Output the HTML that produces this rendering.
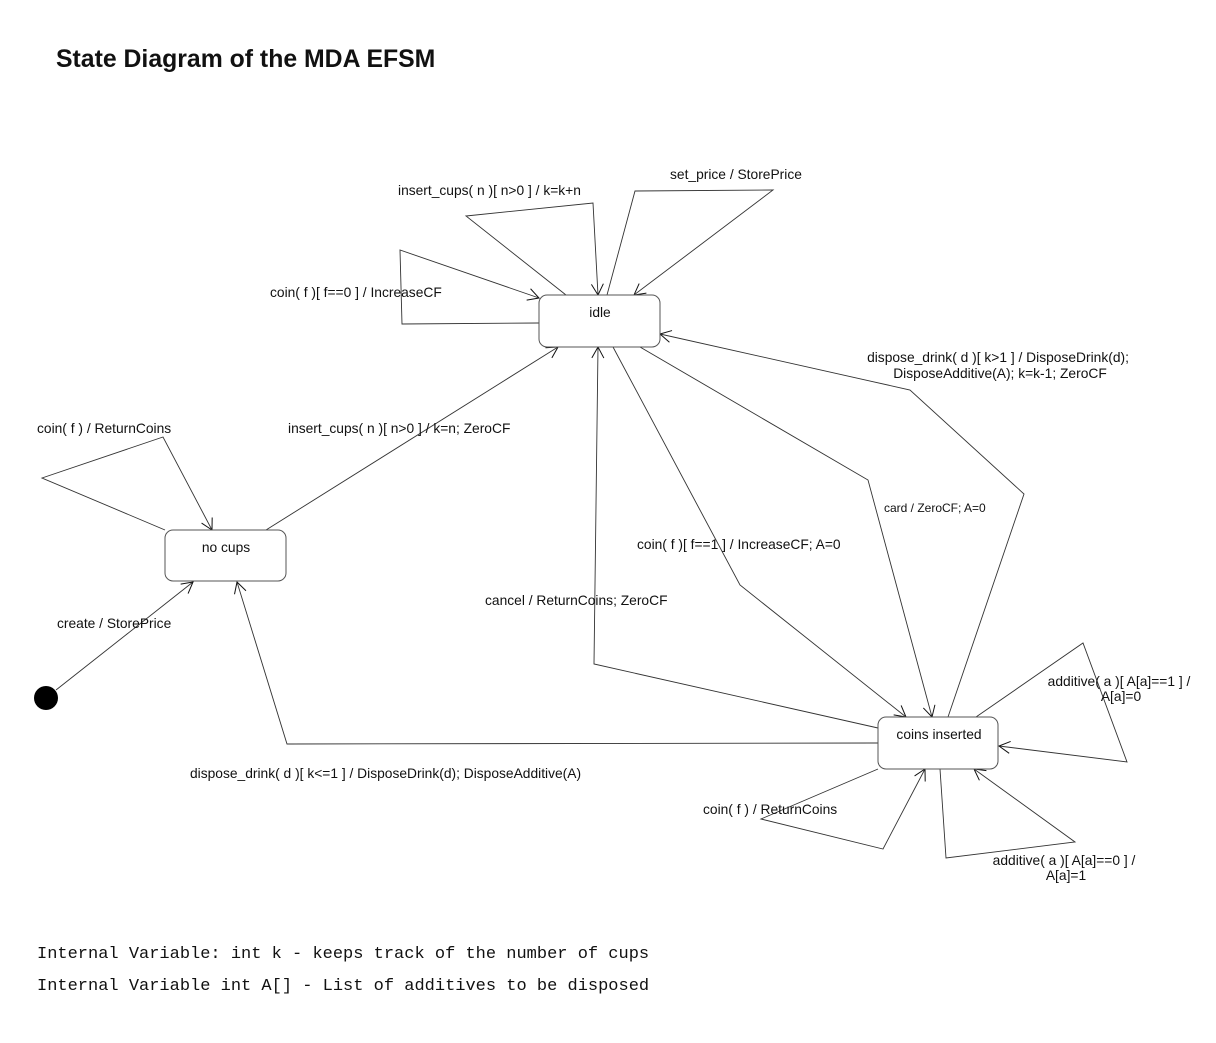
<!DOCTYPE html>
<html><head><meta charset="utf-8"><style>
body{margin:0;background:#fff;}
svg text{font-family:"Liberation Sans",Arial,sans-serif;font-size:13.8px;fill:#111;}
</style></head><body>
<svg width="1216" height="1038" viewBox="0 0 1216 1038" xmlns="http://www.w3.org/2000/svg">
<defs>
<marker id="a" markerWidth="14" markerHeight="14" refX="12" refY="7" orient="auto" markerUnits="userSpaceOnUse">
<path d="M1,1 L12,7 L1,13" fill="none" stroke="#111" stroke-width="1"/>
</marker>
</defs>
<text x="56" y="67" style="font-size:24.8px;font-weight:bold">State Diagram of the MDA EFSM</text>
<g fill="none" stroke="#333" stroke-width="0.9" marker-end="url(#a)">
<polyline points="539,323 402,324 400,250 539,298"/>
<polyline points="566,295 466,216 593,203 598,295"/>
<polyline points="607,295 635,191 773,190 634,295"/>
<polyline points="948,717 1024,494 910,390 660,334"/>
<polyline points="266,530 558,347"/>
<polyline points="165,530 42,478 163,437 212,530"/>
<polyline points="56,690 193,582"/>
<polyline points="878,743 287,744 237,582"/>
<polyline points="878,728 594,664 598,347"/>
<polyline points="613,347 740,585 906,717"/>
<polyline points="640,347 868,480 932,717"/>
<polyline points="976,717 1083,643 1127,762 999,746"/>
<polyline points="940,769 946,858 1075,842 974,769"/>
<polyline points="878,769 761,819 883,849 925,769"/>
</g>
<g fill="#fff" stroke="#555" stroke-width="1">
<rect x="539" y="295" width="121" height="52" rx="8"/>
<rect x="165" y="530" width="121" height="51" rx="8"/>
<rect x="878" y="717" width="120" height="52" rx="8"/>
</g>
<circle cx="46" cy="698" r="12" fill="#000"/>
<text x="600" y="317" text-anchor="middle">idle</text>
<text x="226" y="552" text-anchor="middle">no cups</text>
<text x="939" y="739" text-anchor="middle">coins inserted</text>
<text x="398" y="195">insert_cups( n )[ n&gt;0 ] / k=k+n</text>
<text x="670" y="179">set_price / StorePrice</text>
<text x="270" y="297">coin( f )[ f==0 ] / IncreaseCF</text>
<text x="998" y="362" text-anchor="middle">dispose_drink( d )[ k&gt;1 ] / DisposeDrink(d);</text>
<text x="1000" y="378" text-anchor="middle">DisposeAdditive(A); k=k-1; ZeroCF</text>
<text x="37" y="433">coin( f ) / ReturnCoins</text>
<text x="288" y="433">insert_cups( n )[ n&gt;0 ] / k=n; ZeroCF</text>
<text x="884" y="512" style="font-size:12px">card / ZeroCF; A=0</text>
<text x="637" y="549">coin( f )[ f==1 ] / IncreaseCF; A=0</text>
<text x="485" y="605">cancel / ReturnCoins; ZeroCF</text>
<text x="57" y="628">create / StorePrice</text>
<text x="1119" y="686" text-anchor="middle">additive( a )[ A[a]==1 ] /</text>
<text x="1121" y="701" text-anchor="middle">A[a]=0</text>
<text x="190" y="778">dispose_drink( d )[ k&lt;=1 ] / DisposeDrink(d); DisposeAdditive(A)</text>
<text x="703" y="814">coin( f ) / ReturnCoins</text>
<text x="1064" y="865" text-anchor="middle">additive( a )[ A[a]==0 ] /</text>
<text x="1066" y="880" text-anchor="middle">A[a]=1</text>
<text x="37" y="958" style="font-family:'Liberation Mono',monospace;font-size:17px">Internal Variable: int k - keeps track of the number of cups</text>
<text x="37" y="990" style="font-family:'Liberation Mono',monospace;font-size:17px">Internal Variable int A[] - List of additives to be disposed</text>
</svg>
</body></html>
